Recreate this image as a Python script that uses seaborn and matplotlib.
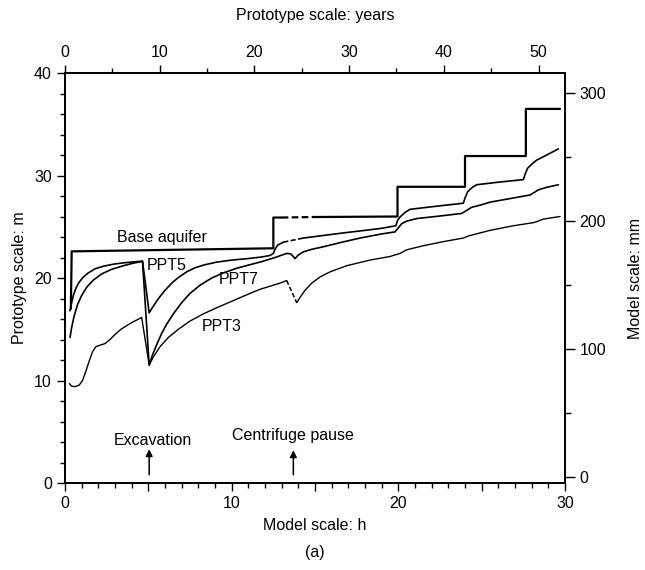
import matplotlib
matplotlib.use("Agg")
import matplotlib.pyplot as plt
from matplotlib.ticker import MultipleLocator, FixedLocator
import seaborn as sns

# base aquifer head, m (stepped)
base_h = [0.35, 0.4, 12.5, 12.5, 13.0]
base_m = [17.0, 22.6, 22.9, 25.9, 25.9]
base_dash_h = [13.0, 14.9]
base_dash_m = [25.9, 25.95]
base2_h = [14.9, 19.95, 19.95, 24.0, 24.0, 27.65, 27.65, 29.7]
base2_m = [25.95, 26.0, 28.9, 28.9, 31.9, 31.9, 36.5, 36.5]

# PPT5
ppt5_h = [0.3, 0.4, 0.5, 0.65, 0.85, 1.1, 1.4, 1.8, 2.3, 2.9, 3.5, 4.1, 4.65,
          5.05, 5.2, 5.4, 5.7, 6.0, 6.4, 6.8, 7.3, 7.8, 8.4, 9.1, 10.0, 11.0, 11.8,
          12.3, 12.5, 12.6, 12.75, 13.1]
ppt5_m = [16.8, 17.6, 18.3, 19.0, 19.6, 20.1, 20.5, 20.9, 21.15, 21.35, 21.48, 21.57, 21.65,
          16.6, 17.0, 17.5, 18.2, 18.8, 19.5, 20.05, 20.6, 21.0, 21.3, 21.55, 21.75, 21.9, 22.05,
          22.2, 22.4, 22.8, 23.2, 23.5]
ppt5_dash_h = [13.1, 13.7, 14.3]
ppt5_dash_m = [23.5, 23.7, 23.9]
ppt5b_h = [14.3, 15.5, 16.7, 18.0, 19.0, 19.85, 19.95, 20.1, 20.4, 20.7, 22.0, 23.9, 24.0, 24.15,
           24.4, 24.7, 26.0, 27.5, 27.6, 27.75, 28.0, 28.3, 28.9, 29.6]
ppt5b_m = [23.9, 24.15, 24.4, 24.65, 24.85, 25.1, 25.6, 25.95, 26.4, 26.7, 26.95, 27.3, 27.8, 28.4,
           28.8, 29.1, 29.35, 29.6, 30.1, 30.7, 31.1, 31.5, 32.0, 32.6]

# PPT7
ppt7_h = [0.3, 0.4, 0.55, 0.75, 1.0, 1.3, 1.7, 2.2, 2.8, 3.5, 4.1, 4.65,
          5.05, 5.25, 5.5, 5.8, 6.1, 6.5, 7.0, 7.5, 8.1, 8.8, 9.5, 10.3, 11.1, 11.8, 12.6,
          13.3, 13.55, 13.8, 14.0, 14.3, 14.8, 15.5, 16.5, 17.7, 19.0, 19.8, 20.0, 20.2, 20.5,
          21.1, 22.5, 23.8, 24.1, 24.4, 25.0, 25.5, 26.7, 27.9, 28.1, 28.4, 28.9, 29.6]
ppt7_m = [14.2, 15.2, 16.3, 17.4, 18.3, 19.1, 19.8, 20.4, 20.85, 21.2, 21.45, 21.62,
          11.5, 12.5, 13.5, 14.6, 15.5, 16.5, 17.6, 18.5, 19.3, 20.0, 20.5, 20.95, 21.3, 21.6, 22.0,
          22.4, 22.35, 21.9, 22.25, 22.55, 22.8, 23.05, 23.45, 23.9, 24.3, 24.5, 24.9, 25.3, 25.55,
          25.8, 26.05, 26.3, 26.6, 26.9, 27.15, 27.4, 27.75, 28.1, 28.3, 28.6, 28.85, 29.1]

# PPT3
ppt3_h = [0.26, 0.4, 0.6, 0.85, 1.05, 1.25, 1.45, 1.65, 1.85, 2.1, 2.4, 2.7, 3.0, 3.4, 4.0, 4.6,
          5.05, 5.3, 5.7, 6.2, 6.8, 7.5, 8.3, 9.1, 10.1, 11.1, 11.7, 12.9, 13.3]
ppt3_m = [9.7, 9.45, 9.4, 9.55, 10.0, 10.9, 11.9, 12.8, 13.3, 13.45, 13.6, 14.0, 14.5, 15.05, 15.65, 16.15,
          11.5, 12.3, 13.3, 14.2, 15.0, 15.8, 16.5, 17.1, 17.8, 18.5, 18.9, 19.5, 19.75]
ppt3_dash_h = [13.3, 13.9]
ppt3_dash_m = [19.75, 17.6]
ppt3b_h = [13.9, 14.1, 14.4, 14.8, 15.3, 15.9, 16.9, 18.3, 19.5, 20.1, 20.5, 21.5, 22.7, 23.9,
           24.2, 25.5, 26.9, 28.1, 28.3, 28.7, 29.7]
ppt3b_m = [17.6, 18.1, 18.8, 19.5, 20.1, 20.6, 21.2, 21.75, 22.1, 22.4, 22.75, 23.15, 23.55, 23.9,
           24.1, 24.65, 25.1, 25.4, 25.5, 25.75, 26.0]

sns.set_style("ticks")
plt.rcParams['font.family'] = ['Liberation Sans', 'DejaVu Sans']
plt.rcParams['font.size'] = 11.5
for k in ('text.color', 'axes.labelcolor', 'xtick.color', 'ytick.color', 'axes.edgecolor'):
    plt.rcParams[k] = 'black'
fs = 11.5

fig = plt.figure(figsize=(6.45, 5.7), dpi=100)
ax = fig.add_axes([0.1008, 0.1526, 0.7752, 0.7193])

solid = [(base_h, base_m, 1.6), (base2_h, base2_m, 1.6),
         (ppt5_h, ppt5_m, 1.2), (ppt5b_h, ppt5b_m, 1.2),
         (ppt7_h, ppt7_m, 1.2),
         (ppt3_h, ppt3_m, 1.0), (ppt3b_h, ppt3b_m, 1.0)]
for xs, ys, lw in solid:
    sns.lineplot(x=xs, y=ys, ax=ax, color='black', linewidth=lw, sort=False, estimator=None)

dashed = [(base_dash_h, base_dash_m, 1.6), (ppt5_dash_h, ppt5_dash_m, 1.2),
          (ppt3_dash_h, ppt3_dash_m, 1.1)]
for xs, ys, lw in dashed:
    sns.lineplot(x=xs, y=ys, ax=ax, color='black', linewidth=lw, sort=False, estimator=None,
                 linestyle=(0, (3, 1.5)))

ax.set_xlim(0, 30)
ax.set_ylim(0, 40)
ax.xaxis.set_major_locator(FixedLocator([0, 5, 10, 15, 20, 25, 30]))
ax.set_xticklabels(['0', '', '10', '', '20', '', '30'])
ax.xaxis.set_minor_locator(MultipleLocator(1))
ax.yaxis.set_major_locator(MultipleLocator(10))
ax.yaxis.set_minor_locator(MultipleLocator(2))
ax.tick_params(which='major', direction='out', length=6, width=1, colors='black', labelsize=fs)
ax.tick_params(which='minor', direction='out', length=3.5, width=1, colors='black')
ax.set_xlabel('Model scale: h', fontsize=fs, labelpad=5)
ax.set_ylabel('Prototype scale: m', fontsize=fs, labelpad=5)

# top axis in prototype years
ax_top = ax.twiny()
ax_top.set_xlim(0, 52.8)
ax_top.xaxis.set_major_locator(MultipleLocator(10))
ax_top.xaxis.set_minor_locator(MultipleLocator(5))
ax_top.tick_params(which='major', direction='out', length=6, width=1, colors='black', labelsize=fs)
ax_top.tick_params(which='minor', direction='out', length=3.5, width=1, colors='black')
ax_top.set_xlabel('Prototype scale: years', fontsize=fs, labelpad=18)

# right axis in model mm
ax_r = ax.twinx()
ax_r.set_ylim(-5, 316)
ax_r.yaxis.set_major_locator(FixedLocator([0, 100, 200, 300]))
ax_r.yaxis.set_minor_locator(FixedLocator([50, 150, 250]))
ax_r.tick_params(which='major', direction='out', length=7, width=1, colors='black', labelsize=fs)
ax_r.tick_params(which='minor', direction='out', length=4, width=1, colors='black')
ax_r.set_ylabel('Model scale: mm', fontsize=fs, labelpad=16)

for a in (ax, ax_top, ax_r):
    for s in a.spines.values():
        s.set_visible(True)
        s.set_linewidth(1.1)
        s.set_color('black')

ax.text(5.8, 24.0, 'Base aquifer', ha='center', va='center', fontsize=fs)
ax.text(6.1, 21.25, 'PPT5', ha='center', va='center', fontsize=fs)
ax.text(10.45, 19.9, 'PPT7', ha='center', va='center', fontsize=fs)
ax.text(9.4, 15.3, 'PPT3', ha='center', va='center', fontsize=fs)

arrow = dict(arrowstyle='-|>', color='black', lw=1.1, mutation_scale=10, shrinkA=0, shrinkB=0)
ax.annotate('', xy=(5.05, 3.3), xytext=(5.05, 0.8), arrowprops=arrow)
ax.annotate('', xy=(13.7, 3.2), xytext=(13.7, 0.8), arrowprops=arrow)
ax.text(5.3, 4.1, 'Excavation', ha='center', va='center', fontsize=fs)
ax.text(13.7, 4.6, 'Centrifuge pause', ha='center', va='center', fontsize=fs)

fig.text(0.488, 1 - 553 / 570, '(a)', ha='center', va='center', fontsize=fs)

fig.savefig('out.png', dpi=100)
